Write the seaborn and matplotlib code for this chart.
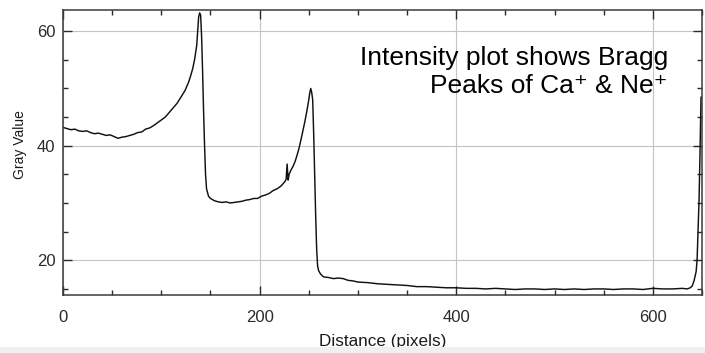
import numpy as np
import pandas as pd
import matplotlib
matplotlib.use("Agg")
import matplotlib.pyplot as plt
from matplotlib.patches import Rectangle
from matplotlib.ticker import MultipleLocator
import seaborn as sns

# ---- data (Distance in pixels, Gray Value) ----
dist_peak1 = [0, 4, 8, 12, 16, 20, 24, 28, 32, 36, 40, 44, 48, 52, 56, 60, 64, 68,
              72, 76, 80, 84, 88, 92, 96, 100, 104, 108, 112, 116, 120, 124, 128,
              130, 132, 134, 136, 137, 138, 139, 140, 141, 142, 143, 144, 145, 146, 148]
gray_peak1 = [43.2, 43.0, 42.8, 42.9, 42.6, 42.5, 42.6, 42.3, 42.1, 42.2, 42.0, 41.8,
              41.9, 41.6, 41.3, 41.5, 41.6, 41.8, 42.0, 42.3, 42.4, 42.9, 43.1, 43.5,
              44.0, 44.5, 45.0, 45.8, 46.6, 47.4, 48.5, 49.6, 51.2, 52.3, 53.5, 55.2,
              57.5, 60.0, 62.5, 63.2, 62.8, 59.0, 53.0, 46.0, 40.0, 35.0, 32.5, 31.2]

dist_peak2 = [150, 154, 158, 162, 166, 170, 174, 178, 182, 186, 190, 194, 198, 202,
              206, 210, 214, 218, 222, 226, 227, 228, 229, 230, 232, 234, 236, 238,
              240, 242, 244, 246, 248, 250, 251, 252, 253, 254, 255, 256, 257, 258,
              259, 260, 262]
gray_peak2 = [30.8, 30.4, 30.2, 30.1, 30.2, 30.0, 30.1, 30.2, 30.3, 30.5, 30.6, 30.8,
              30.8, 31.2, 31.4, 31.7, 32.2, 32.5, 33.0, 33.8, 34.2, 36.8, 34.0, 35.0,
              35.8, 36.4, 37.2, 38.3, 39.5, 41.0, 42.6, 44.2, 46.0, 48.0, 49.2, 50.0,
              49.3, 48.0, 42.0, 35.0, 28.0, 22.0, 19.0, 18.2, 17.6]

dist_tail = [265, 270, 275, 280, 285, 290, 295, 300, 310, 320, 330, 340, 350, 360,
             370, 380, 390, 400, 410, 420, 430, 440, 450, 460, 470, 480, 490, 500,
             510, 520, 530, 540, 550, 560, 570, 580, 590, 600, 610, 620, 630, 635,
             638, 640, 642, 644, 645, 646, 647, 648, 649, 650]
gray_tail = [17.1, 17.0, 16.8, 16.9, 16.8, 16.5, 16.4, 16.2, 16.1, 15.9, 15.8, 15.7,
             15.6, 15.4, 15.4, 15.3, 15.2, 15.2, 15.1, 15.1, 15.0, 15.1, 15.0, 14.9,
             15.0, 15.0, 14.9, 15.0, 14.9, 15.0, 14.9, 15.0, 15.0, 14.9, 15.0, 15.0,
             14.9, 15.1, 15.0, 15.0, 15.1, 15.0, 15.2, 15.5, 16.5, 18.0, 20.0, 25.0,
             30.5, 39.0, 48.5, 48.5]

x_ticks = [0, 200, 400, 600]
y_ticks = [20, 40, 60]
x_label = "Distance (pixels)"
y_label = "Gray Value"
note_text = "Intensity plot shows Bragg\nPeaks of Ca\u207a & Ne\u207a"

df = pd.DataFrame({
    "distance": dist_peak1 + dist_peak2 + dist_tail,
    "gray": gray_peak1 + gray_peak2 + gray_tail,
})

sns.set_theme(style="white")
plt.rcParams["font.family"] = ["Liberation Sans", "DejaVu Sans"]

W, H = 705, 353
AX_L, AX_R, AX_T, AX_B = 63, 702, 10, 295

fig = plt.figure(figsize=(W / 100, H / 100), dpi=100)
ax = fig.add_axes([AX_L / W, 1 - AX_B / H, (AX_R - AX_L) / W, (AX_B - AX_T) / H])

sns.lineplot(data=df, x="distance", y="gray", ax=ax, estimator=None, sort=False,
             color="#111111", linewidth=1.05)

ax.set_xlim(0, 650)
ax.set_ylim(13.94, 63.7)
ax.set_xticks(x_ticks)
ax.set_yticks(y_ticks)
ax.xaxis.set_minor_locator(MultipleLocator(50))
ax.yaxis.set_minor_locator(MultipleLocator(5))

ax.grid(True, which="major", color="#c4c4c4", linewidth=0.8)
ax.set_axisbelow(True)

for s in ax.spines.values():
    s.set_color("#3a3a3a")
    s.set_linewidth(1.1)

ax.tick_params(which="both", direction="in", top=True, right=True,
               bottom=True, left=True, color="#2a2a2a", width=1.0)
ax.tick_params(which="major", length=6.5)
ax.tick_params(which="minor", length=3.6)
ax.tick_params(axis="x", which="major", pad=11, labelsize=12, labelcolor="#2a2a2a")
ax.tick_params(axis="y", which="major", pad=5.5, labelsize=12, labelcolor="#2a2a2a")

def px_x(p):
    return (p - AX_L) / (AX_R - AX_L)

def px_y(p):
    return (AX_B - p) / (AX_B - AX_T)

ax.set_xlabel(x_label, fontsize=12.3, color="#1a1a1a", va="top")
ax.xaxis.set_label_coords(0.5, px_y(334))
ax.set_ylabel(y_label, fontsize=10, color="#1a1a1a")
ax.yaxis.set_label_coords(px_x(27), px_y(145))

ax.text(px_x(668), px_y(93), note_text, ha="right", va="baseline",
        fontsize=19, color="black", linespacing=1.22, transform=ax.transAxes)

fig.add_artist(Rectangle((0, 0), 1, 6 / H, transform=fig.transFigure,
                         facecolor="#f0f0f0", edgecolor="none", zorder=10))

fig.savefig("out.png", dpi=100)
